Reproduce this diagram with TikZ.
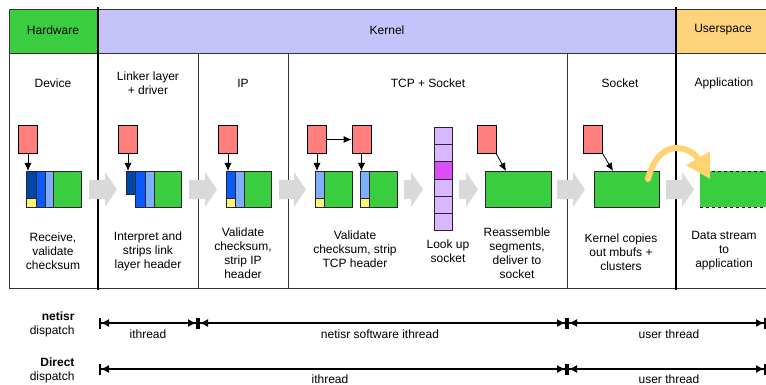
\documentclass[tikz,border=0pt]{standalone}
\usepackage{fontspec}
\setmainfont{Liberation Sans}
\usepackage{tikz}
\usetikzlibrary{arrows.meta}
\definecolor{hwgreen}{HTML}{3ACD3F}
\definecolor{kernblue}{HTML}{C4C4FA}
\definecolor{userorange}{HTML}{FFD37C}
\definecolor{mbufred}{HTML}{FF7E7E}
\definecolor{dkblue}{HTML}{0048A8}
\definecolor{midblue}{HTML}{0A5AFA}
\definecolor{ltblue}{HTML}{7FAEFF}
\definecolor{hdryellow}{HTML}{FFF27A}
\definecolor{slotpurple}{HTML}{D7B7FF}
\definecolor{slotmagenta}{HTML}{DA4EF5}
\definecolor{flowgray}{HTML}{D9D9D9}
\definecolor{curveorange}{HTML}{FFD272}
\definecolor{rulegray}{HTML}{333333}
\tikzset{>={Latex[length=8pt,width=7pt]}}
\tikzset{
  mbuf/.style={draw=black, fill=mbufred, minimum width=19pt, minimum height=28pt, inner sep=0pt, line width=0.6pt},
  seg/.style={draw=black!85, anchor=north west, inner sep=0pt, minimum height=36pt, line width=0.6pt},
  slot/.style={draw=black!85, fill=slotpurple, anchor=north west, inner sep=0pt, minimum width=18pt, minimum height=17.2pt, line width=0.6pt},
  lbl/.style={align=center, font=\fontsize{12}{14}\selectfont},
  link/.style={->, line width=0.8pt},
  dim/.style={line width=1.2pt, {Bar[width=11pt,line width=2pt]Latex[length=8pt,width=8pt]}-{Latex[length=8pt,width=8pt]Bar[width=11pt,line width=2pt]}},
}
\newcommand\flowarrow[2]{%
  \fill[flowgray] (#1,180) -- (#2-12,180) -- (#2-12,172) -- (#2,189.5) -- (#2-12,207) -- (#2-12,199) -- (#1,199) -- cycle;}

\begin{document}
\begin{tikzpicture}[x=1pt, y=-1pt]
  \useasboundingbox (0,0) rectangle (766,385);
  % header bands
  \draw[rulegray, fill=hwgreen] (9,9) rectangle (98,53);
  \draw[rulegray, fill=kernblue] (98,9) rectangle (676,53);
  \draw[rulegray, fill=userorange] (676,9) rectangle (767,53);
  \node[lbl] (hw) at (53,30) {Hardware};
  \node[lbl] (kern) at (387,30) {Kernel};
  \node[lbl] (user) at (723,30) {Userspace};
  % columns
  \draw[rulegray] (9,53) rectangle (767,288);
  \foreach \x in {198,288,567} \draw[rulegray] (\x,53) -- (\x,288);
  \draw[line width=2.5pt] (98,7) -- (98,290);
  \draw[line width=2.5pt] (676,7) -- (676,290);
  \node[lbl] (c1) at (53,83) {Device};
  \node[lbl] (c2) at (148,83) {Linker layer\\+ driver};
  \node[lbl] (c3) at (243,83) {IP};
  \node[lbl] (c4) at (428,83) {TCP + Socket};
  \node[lbl] (c5) at (620,83) {Socket};
  \node[lbl] (c6) at (724,83) {Application};

  % flow arrows
  \flowarrow{89}{117}
  \flowarrow{189}{217}
  \flowarrow{279}{306}
  \flowarrow{404}{423}
  \flowarrow{459}{478}
  \flowarrow{557}{585}
  \flowarrow{666}{694}

  % device
  \node[seg, fill=dkblue, minimum width=10pt] (d1) at (26,171) {};
  \node[seg, fill=hdryellow, minimum width=10pt, minimum height=9pt] at (26,198) {};
  \node[seg, fill=midblue, minimum width=9pt] at (36,171) {};
  \node[seg, fill=ltblue, minimum width=8pt] at (45,171) {};
  \node[seg, fill=hwgreen, minimum width=28pt] at (53,171) {};
  \node[mbuf] (m1) at (28,139.5) {};
  \draw[link] (m1) -- (m1 |- d1.north);

  % link layer
  \node[seg, fill=dkblue, minimum width=9pt, minimum height=23pt] (l1) at (126,171) {};
  \node[seg, fill=midblue, minimum width=10pt] at (135,171) {};
  \node[seg, fill=ltblue, minimum width=9pt] at (145,171) {};
  \node[seg, fill=hwgreen, minimum width=27pt] at (154,171) {};
  \node[mbuf] (m2) at (128,139.5) {};
  \draw[link] (m2) -- (m2 |- l1.north);

  % ip
  \node[seg, fill=midblue, minimum width=9pt] (i1) at (226,171) {};
  \node[seg, fill=hdryellow, minimum width=9pt, minimum height=9pt] at (226,198) {};
  \node[seg, fill=ltblue, minimum width=9pt] at (235,171) {};
  \node[seg, fill=hwgreen, minimum width=27pt] at (244,171) {};
  \node[mbuf] (m3) at (228,139.5) {};
  \draw[link] (m3) -- (m3 |- i1.north);

  % tcp
  \node[seg, fill=ltblue, minimum width=9pt] (t1) at (315,171) {};
  \node[seg, fill=hdryellow, minimum width=9pt, minimum height=9pt] at (315,198) {};
  \node[seg, fill=hwgreen, minimum width=28pt] at (324,171) {};
  \node[seg, fill=ltblue, minimum width=9pt] (t2) at (360,171) {};
  \node[seg, fill=hdryellow, minimum width=9pt, minimum height=9pt] at (360,198) {};
  \node[seg, fill=hwgreen, minimum width=28pt] at (369,171) {};
  \node[mbuf] (m4) at (317,139.5) {};
  \node[mbuf] (m5) at (361.5,139.5) {};
  \draw[link] (m4) -- (m5);
  \draw[link] (m4) -- (m4 |- t1.north);
  \draw[link] (m5) -- (m5 |- t2.north);

  % socket lookup
  \foreach \i in {0,...,5}
    \node[slot] (s\i) at (434,127+17.2*\i) {};
  \node[slot, fill=slotmagenta] at (434,161.4) {};

  % reassemble
  \node[seg, fill=hwgreen, minimum width=66pt] (r1) at (485,171) {};
  \node[mbuf] (m6) at (486.5,139.5) {};
  \draw[link] (m6.south east) -- ([xshift=21pt]r1.north west);

  % socket copy
  \node[seg, fill=hwgreen, minimum width=65pt] (k1) at (594,171) {};
  \node[mbuf] (m7) at (593,139.5) {};
  \draw[link] (m7.south east) -- ([xshift=19pt]k1.north west);

  % application
  \fill[hwgreen] (700,171) rectangle (767,207);
  \draw[dashed, line width=0.8pt] (700,171) -- (767,171);
  \draw[dashed, line width=0.8pt] (700,207) -- (767,207);
  \coordinate (cs) at (648,179);
  \coordinate (ca) at (710,179);
  \draw[curveorange, line width=6pt, line cap=round, -{Triangle[length=24pt,width=26pt]}]
    (cs) .. controls (660,134) and (692,148) .. (ca);

  % step texts
  \node[lbl] (x1) at (53,251) {Receive,\\validate\\checksum};
  \node[lbl] (x2) at (148,251) {Interpret and\\strips link\\layer header};
  \node[lbl] (x3) at (243,253) {Validate\\checksum,\\strip IP\\header};
  \node[lbl] (x4) at (355,249) {Validate\\checksum, strip\\TCP header};
  \node[lbl] (x5) at (448,251) {Look up\\socket};
  \node[lbl] (x6) at (517,253) {Reassemble\\segments,\\deliver to\\socket};
  \node[lbl] (x7) at (621,252) {Kernel copies\\out mbufs +\\clusters};
  \node[lbl] (x8) at (724,251) {Data stream\\to\\application};

  % dispatch rows
  \node[lbl, align=right, anchor=east] (nd) at (78,324) {\textbf{netisr}\\dispatch};
  \node[lbl, align=right, anchor=east] (dd) at (78,370) {\textbf{Direct}\\dispatch};
  \coordinate (n0) at (99,323);
  \coordinate (n1) at (198,323);
  \coordinate (n2) at (567,323);
  \coordinate (n3) at (766,323);
  \coordinate (d0) at (99,369);
  \coordinate (d2) at (567,369);
  \coordinate (d3) at (766,369);
  \draw[dim] (n0) -- (n1);
  \draw[dim] (n1) -- (n2);
  \draw[dim] (n2) -- (n3);
  \draw[dim] (d0) -- (d2);
  \draw[dim] (d2) -- (d3);
  \node[lbl] (t1) at (148,334) {ithread};
  \node[lbl] (t2) at (380,334) {netisr software ithread};
  \node[lbl] (t3) at (669,334) {user thread};
  \node[lbl] (t4) at (330,379) {ithread};
  \node[lbl] (t5) at (669,379) {user thread};
\end{tikzpicture}
\end{document}
